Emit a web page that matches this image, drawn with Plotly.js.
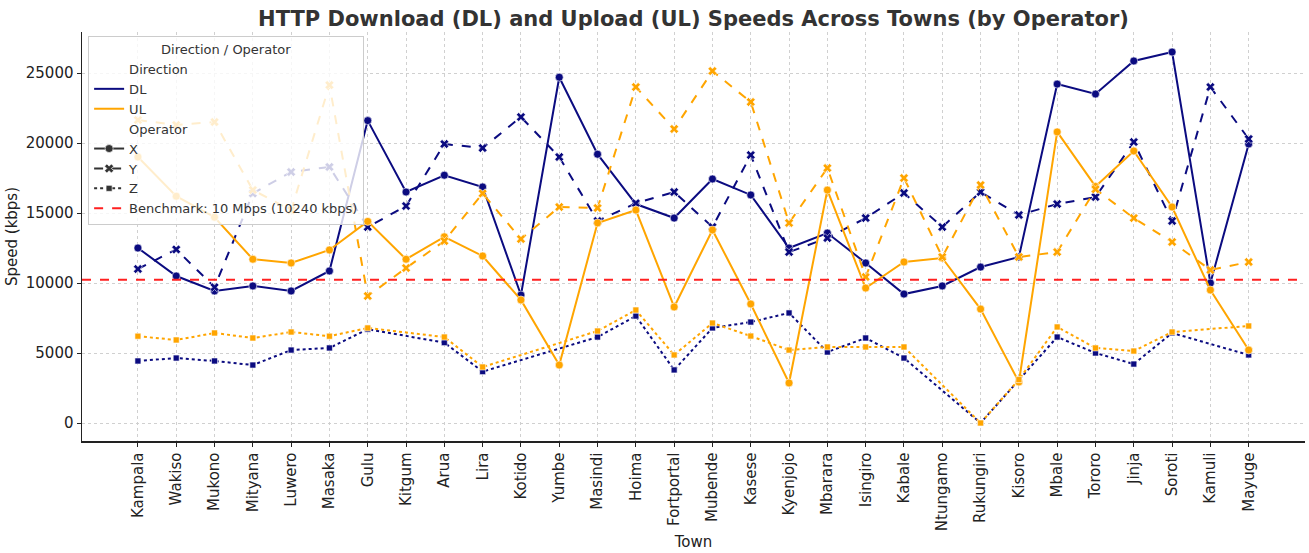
<!DOCTYPE html>
<html>
<head>
<meta charset="utf-8">
<script src="https://cdn.plot.ly/plotly-3.0.1.min.js"></script>
<style>
  html, body { margin: 0; padding: 0; background: #fff; }
  #chart { width: 1309px; height: 553px; }
</style>
</head>
<body>
<div id="chart"></div>
<script>
// Towns along the x axis
const towns = ["Kampala", "Wakiso", "Mukono", "Mityana", "Luwero", "Masaka", "Gulu", "Kitgum",
  "Arua", "Lira", "Kotido", "Yumbe", "Masindi", "Hoima", "Fortportal", "Mubende", "Kasese",
  "Kyenjojo", "Mbarara", "Isingiro", "Kabale", "Ntungamo", "Rukungiri", "Kisoro", "Mbale",
  "Tororo", "Jinja", "Soroti", "Kamuli", "Mayuge"];

// Download speeds (kbps) per operator
const dlX = [12500, 10500, 9430, 9790, 9430, 10860, 21600, 16500, 17700, 16860, 9140, 24700, 19200, 15640, 14640,
  17430, 16290, 12500, 13570, 11430, 9210, 9790, 11140, 11860, 24210, 23500, 25860, 26500, 10000, 19930];
const dlY = [11000, 12400, 9700, 16400, 17930, 18290, 14000, 15500, 19930, 19640, 21860, 19000, 14430, 15700, 16500,
  14000, 19140, 12210, 13210, 14640, 16430, 14000, 16500, 14860, 15640, 16140, 20070, 14430, 24000, 20290];
const dlZ = [4430, 4640, 4430, 4140, 5210, 5360, 6700, null, 5740, 3670, null, null, 6140, 7640, 3790,
  6790, 7210, 7860, 5070, 6070, 4640, null, 0, 3100, 6140, 5000, 4210, 6430, null, 4860];

// Upload speeds (kbps) per operator
const ulX = [19000, 16200, 14700, 11700, 11430, 12360, 14400, 11700, 13300, 11930, 8790, 4140, 14290, 15210, 8290,
  13790, 8500, 2860, 16640, 9640, 11500, 11790, 8140, 2930, 20790, 16900, 19430, 15430, 9500, 5210];
const ulY = [21640, 21290, 21500, 16640, 15200, 24140, 9070, 11070, 13000, 16400, 13140, 15430, 15360, 24000, 21000,
  25140, 22930, 14290, 18210, 10430, 17500, 11860, 17000, 11860, 12210, 16700, 14640, 12930, 10930, 11500];
const ulZ = [6200, 5930, 6430, 6070, 6500, 6200, 6790, null, 6140, 4000, null, null, 6570, 8070, 4860,
  7140, 6210, 5210, 5430, 5430, 5430, null, 0, 3100, 6860, 5360, 5140, 6500, null, 6930];

const benchmarkKbps = 10240;
const yTicks = [0, 5000, 10000, 15000, 20000, 25000];

const dirColors = { DL: "#0b0b80", UL: "#ffa500" };
const opStyles = {
  X: { dash: "solid", symbol: "circle", size: 8 },
  Y: { dash: "dash", symbol: "x", size: 8 },
  Z: { dash: "dot", symbol: "square", size: 6 }
};

const series = [
  ["DL", "X", dlX], ["DL", "Y", dlY], ["DL", "Z", dlZ],
  ["UL", "X", ulX], ["UL", "Y", ulY], ["UL", "Z", ulZ]
];

const traces = series.map(([dir, op, vals]) => ({
  type: "scatter",
  mode: "lines+markers",
  x: towns,
  y: vals,
  connectgaps: true,
  showlegend: false,
  name: dir + " " + op,
  line: { color: dirColors[dir], width: 2, dash: opStyles[op].dash },
  marker: { color: dirColors[dir], symbol: opStyles[op].symbol, size: opStyles[op].size,
            line: { color: "#ffffff", width: 0.6 } }
}));

// Legend entries (headers, directions, operators, benchmark)
const blank = { type: "scatter", x: [null], y: [null], showlegend: true };
const legendEntries = [
  Object.assign({}, blank, { name: "Direction", mode: "lines", line: { color: "rgba(0,0,0,0)", width: 0 } }),
  Object.assign({}, blank, { name: "DL", mode: "lines", line: { color: dirColors.DL, width: 2 } }),
  Object.assign({}, blank, { name: "UL", mode: "lines", line: { color: dirColors.UL, width: 2 } }),
  Object.assign({}, blank, { name: "Operator", mode: "lines", line: { color: "rgba(0,0,0,0)", width: 0 } }),
  ...["X", "Y", "Z"].map(op => Object.assign({}, blank, {
    name: op, mode: "lines+markers",
    line: { color: "#333333", width: 2, dash: opStyles[op].dash },
    marker: { color: "#333333", symbol: opStyles[op].symbol, size: opStyles[op].size,
              line: { color: "#ffffff", width: 0.6 } }
  })),
  Object.assign({}, blank, { name: "Benchmark: 10 Mbps (10240 kbps)", mode: "lines",
    line: { color: "#ff2020", width: 2, dash: "dash" } })
];

const layout = {
  width: 1309, height: 553,
  margin: { l: 82, r: 4, t: 32, b: 112 },
  paper_bgcolor: "#ffffff", plot_bgcolor: "#ffffff",
  font: { family: "DejaVu Sans, sans-serif", color: "#222222" },
  title: {
    text: "<b>HTTP Download (DL) and Upload (UL) Speeds Across Towns (by Operator)</b>",
    font: { size: 21, color: "#333333", family: "DejaVu Sans, sans-serif" },
    x: 0.5, xref: "paper", xanchor: "center", y: 0.967, yanchor: "middle"
  },
  xaxis: {
    type: "category",
    range: [-1.46, 30.47],
    tickangle: -90,
    tickfont: { size: 15, color: "#222222" },
    ticks: "outside", ticklen: 4, tickcolor: "#222222",
    showgrid: true, gridcolor: "#d0d0d0", griddash: "dot", gridwidth: 1,
    showline: true, linecolor: "#222222", linewidth: 1.5,
    zeroline: false,
    title: { text: "Town", font: { size: 15, color: "#222222" }, standoff: 6 },
    automargin: false
  },
  yaxis: {
    range: [-1286, 27930],
    tickvals: yTicks,
    ticktext: yTicks.map(String),
    tickfont: { size: 15, color: "#222222" },
    ticks: "outside", ticklen: 4, tickcolor: "#222222",
    showgrid: true, gridcolor: "#d0d0d0", griddash: "dot", gridwidth: 1,
    showline: true, linecolor: "#222222", linewidth: 1.5,
    zeroline: false,
    title: { text: "Speed (kbps)", font: { size: 15, color: "#222222" }, standoff: 4 },
    automargin: false
  },
  shapes: [{
    type: "line", xref: "paper", x0: 0, x1: 1, yref: "y", y0: benchmarkKbps, y1: benchmarkKbps,
    line: { color: "#ff2020", width: 2, dash: "dash" }
  }],
  legend: {
    x: 0.005, y: 0.99, xanchor: "left", yanchor: "top",
    bgcolor: "rgba(255,255,255,0.8)", bordercolor: "#cccccc", borderwidth: 1,
    font: { size: 13, color: "#333333" },
    title: { text: "Direction / Operator", side: "top center", font: { size: 13, color: "#333333" } },
    tracegroupgap: 0,
    itemwidth: 30
  },
  showlegend: true
};

Plotly.newPlot("chart", traces.concat(legendEntries), layout, { displayModeBar: false, staticPlot: true });
</script>
</body>
</html>
